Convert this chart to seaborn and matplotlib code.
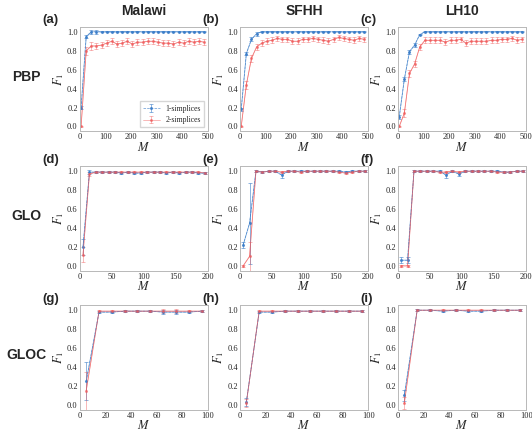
import numpy as np
import pandas as pd
import seaborn as sns
import matplotlib
matplotlib.use("Agg")
import matplotlib.pyplot as plt

# ---- data ----
datasets = ["Malawi", "SFHH", "LH10"]
models = ["PBP", "GLO", "GLOC"]

m_pbp = list(range(5, 500, 20))
m_glo = list(range(5, 200, 10))
m_gloc = list(range(5, 100, 10))

# PBP
pbp_malawi_1 = [0.20, 0.95] + [1.0] * 23
pbp_malawi_2 = [0.00, 0.80, 0.85, 0.85, 0.86, 0.88, 0.90, 0.87, 0.88, 0.90, 0.87, 0.89, 0.89,
                0.90, 0.90, 0.89, 0.88, 0.88, 0.87, 0.89, 0.88, 0.90, 0.89, 0.90, 0.89]
pbp_sfhh_1 = [0.18, 0.77, 0.92, 0.98] + [1.0] * 21
pbp_sfhh_2 = [0.00, 0.44, 0.72, 0.84, 0.88, 0.90, 0.91, 0.93, 0.92, 0.92, 0.90, 0.90, 0.92,
              0.92, 0.93, 0.92, 0.91, 0.90, 0.92, 0.94, 0.93, 0.92, 0.91, 0.93, 0.92]
pbp_lh10_1 = [0.10, 0.50, 0.79, 0.86, 0.97] + [1.0] * 20
pbp_lh10_2 = [0.00, 0.14, 0.56, 0.66, 0.84, 0.91, 0.91, 0.91, 0.91, 0.89, 0.91, 0.91, 0.92,
              0.88, 0.90, 0.90, 0.90, 0.90, 0.91, 0.91, 0.92, 0.92, 0.93, 0.91, 0.92]
pbp_err_1 = [0.02, 0.02, 0.02, 0.02] + [0.005] * 21
pbp_err_2 = [0.01, 0.04, 0.04, 0.03] + [0.03] * 21

# GLO
glo_malawi_1 = [0.20, 0.99, 0.99, 0.99, 0.99, 0.99, 0.98, 0.99, 0.98, 0.98, 0.99, 0.99, 0.99,
                0.98, 0.99, 0.98, 0.99, 0.99, 0.98, 0.98]
glo_malawi_2 = [0.12, 0.97, 0.99, 0.99, 0.99, 0.99, 0.99, 0.99, 0.99, 0.99, 0.99, 0.99, 0.99,
                0.99, 0.99, 0.99, 0.99, 0.99, 0.99, 0.98]
glo_sfhh_1 = [0.22, 0.45, 1.00, 0.99, 1.00, 1.00, 0.96, 1.00, 1.00, 1.00, 1.00, 1.00, 1.00,
              1.00, 1.00, 1.00, 0.99, 1.00, 1.00, 1.00]
glo_sfhh_2 = [0.00, 0.10, 1.00, 0.99, 1.00, 1.00, 0.99, 1.00, 1.00, 0.99, 1.00, 1.00, 1.00,
              1.00, 1.00, 0.99, 0.98, 0.99, 1.00, 1.00]
glo_lh10_1 = [0.06, 0.06, 1.00, 1.00, 1.00, 1.00, 1.00, 0.96, 1.00, 0.97, 1.00, 1.00, 1.00,
              1.00, 1.00, 1.00, 0.99, 0.99, 1.00, 1.00]
glo_lh10_2 = [0.00, 0.00, 1.00, 1.00, 1.00, 1.00, 0.99, 0.99, 1.00, 0.99, 1.00, 1.00, 1.00,
              1.00, 1.00, 0.99, 0.99, 0.99, 1.00, 1.00]
glo_malawi_err = [0.08, 0.02] + [0.01] * 18
glo_sfhh_err_1 = [0.03, 0.43, 0.01, 0.01, 0.01, 0.01, 0.03] + [0.01] * 13
glo_sfhh_err_2 = [0.01, 0.15] + [0.01] * 18
glo_lh10_err_1 = [0.03, 0.03, 0.01, 0.01, 0.01, 0.01, 0.01, 0.03, 0.01, 0.02] + [0.01] * 10
glo_lh10_err_2 = [0.01, 0.01] + [0.01] * 18

# GLOC
gloc_malawi_1 = [0.25, 0.98, 0.98, 0.99, 0.99, 0.99, 0.98, 0.98, 0.98, 0.99]
gloc_malawi_2 = [0.15, 0.99, 0.99, 0.99, 0.99, 0.99, 0.99, 0.99, 0.99, 0.99]
gloc_sfhh_1 = [0.03, 0.98, 0.98, 0.99, 0.99, 0.99, 0.99, 0.99, 0.99, 0.99]
gloc_sfhh_2 = [0.02, 0.99, 0.99, 0.99, 0.99, 0.99, 0.99, 0.99, 0.99, 0.99]
gloc_lh10_1 = [0.10, 1.00, 1.00, 0.99, 1.00, 0.99, 0.99, 1.00, 1.00, 1.00]
gloc_lh10_2 = [0.02, 1.00, 1.00, 1.00, 1.00, 1.00, 1.00, 1.00, 1.00, 1.00]
gloc_err_malawi = [0.20, 0.01, 0.01, 0.01, 0.01, 0.01, 0.02, 0.02, 0.01, 0.01]
gloc_err_sfhh = [0.04, 0.01, 0.01, 0.01, 0.01, 0.01, 0.01, 0.01, 0.01, 0.01]
gloc_err_lh10 = [0.06, 0.01, 0.01, 0.01, 0.01, 0.01, 0.01, 0.01, 0.01, 0.01]

panels = {
    ("PBP", "Malawi"): (m_pbp, pbp_malawi_1, pbp_err_1, pbp_malawi_2, pbp_err_2),
    ("PBP", "SFHH"): (m_pbp, pbp_sfhh_1, pbp_err_1, pbp_sfhh_2, pbp_err_2),
    ("PBP", "LH10"): (m_pbp, pbp_lh10_1, pbp_err_1, pbp_lh10_2, pbp_err_2),
    ("GLO", "Malawi"): (m_glo, glo_malawi_1, glo_malawi_err, glo_malawi_2, glo_malawi_err),
    ("GLO", "SFHH"): (m_glo, glo_sfhh_1, glo_sfhh_err_1, glo_sfhh_2, glo_sfhh_err_2),
    ("GLO", "LH10"): (m_glo, glo_lh10_1, glo_lh10_err_1, glo_lh10_2, glo_lh10_err_2),
    ("GLOC", "Malawi"): (m_gloc, gloc_malawi_1, gloc_err_malawi, gloc_malawi_2, gloc_err_malawi),
    ("GLOC", "SFHH"): (m_gloc, gloc_sfhh_1, gloc_err_sfhh, gloc_sfhh_2, gloc_err_sfhh),
    ("GLOC", "LH10"): (m_gloc, gloc_lh10_1, gloc_err_lh10, gloc_lh10_2, gloc_err_lh10),
}
xmax = {"PBP": 500, "GLO": 200, "GLOC": 100}
xstep = {"PBP": 100, "GLO": 50, "GLOC": 20}

sns.set_style("white")
plt.rcParams['font.family'] = ['Liberation Serif', 'DejaVu Serif']
plt.rcParams['mathtext.fontset'] = 'stix'

c1 = "#3a7dc9"
c2 = "#f05a5a"

fig = plt.figure(figsize=(5.32, 4.33), dpi=100)
lefts = [0.150, 0.451, 0.748]
bottoms = [0.697, 0.375, 0.054]
w, h = 0.241, 0.2405
letters = "abcdefghi"

for r, model in enumerate(models):
    for c, ds in enumerate(datasets):
        ax = fig.add_axes([lefts[c], bottoms[r], w, h])
        m, y1, e1, y2, e2 = panels[(model, ds)]
        df = pd.DataFrame({
            "M": m * 2,
            "F1": y1 + y2,
            "kind": ["1-simplices"] * len(m) + ["2-simplices"] * len(m),
        })
        sns.lineplot(data=df, x="M", y="F1", hue="kind", palette=[c1, c2],
                     ax=ax, linewidth=0.6, alpha=0.6, legend=False)
        ax.errorbar(m, y1, yerr=e1, fmt="o", ms=1.2, color=c1, ecolor=c1,
                    elinewidth=0.5, capsize=1.2, capthick=0.5, alpha=0.8,
                    label="1-simplices", linestyle="--", lw=0.5)
        ax.errorbar(m, y2, yerr=e2, fmt="o", ms=1.2, color=c2, ecolor=c2,
                    elinewidth=0.5, capsize=1.2, capthick=0.5, alpha=0.6,
                    label="2-simplices", linestyle="-", lw=0.5)
        ax.set_xlim(0, xmax[model])
        ax.set_ylim(-0.05, 1.05)
        ax.set_xticks(np.arange(0, xmax[model] + 1, xstep[model]))
        ax.set_yticks(np.arange(0, 1.01, 0.2))
        ax.set_yticklabels([f"{v:.1f}" for v in np.arange(0, 1.01, 0.2)])
        ax.tick_params(labelsize=6, length=0, pad=1.5)
        ax.set_xlabel("$M$", fontsize=9, labelpad=-0.5)
        ax.set_ylabel("$F_1$", fontsize=9, labelpad=1)
        for s in ax.spines.values():
            s.set_color("#b8b8b8")
            s.set_linewidth(0.7)
        if r == 0 and c == 0:
            ax.legend(loc="lower right", fontsize=5.5, frameon=True,
                      handlelength=2.2, borderpad=0.4, labelspacing=0.5,
                      edgecolor="#cccccc", fancybox=False)
        fig.text(lefts[c] - 0.07, bottoms[r] + h + 0.016, f"({letters[r * 3 + c]})",
                 fontsize=9.5, fontweight="bold", family="Liberation Sans",
                 ha="left", va="center")

for c, ds in enumerate(datasets):
    fig.text(lefts[c] + w / 2, 0.975, ds, fontsize=10, fontweight="bold",
             family="Liberation Sans", ha="center", va="center")
for r, model in enumerate(models):
    fig.text(0.05, bottoms[r] + h / 2 + 0.005, model, fontsize=10, fontweight="bold",
             family="Liberation Sans", ha="center", va="center")

fig.savefig("out.png", dpi=100)
